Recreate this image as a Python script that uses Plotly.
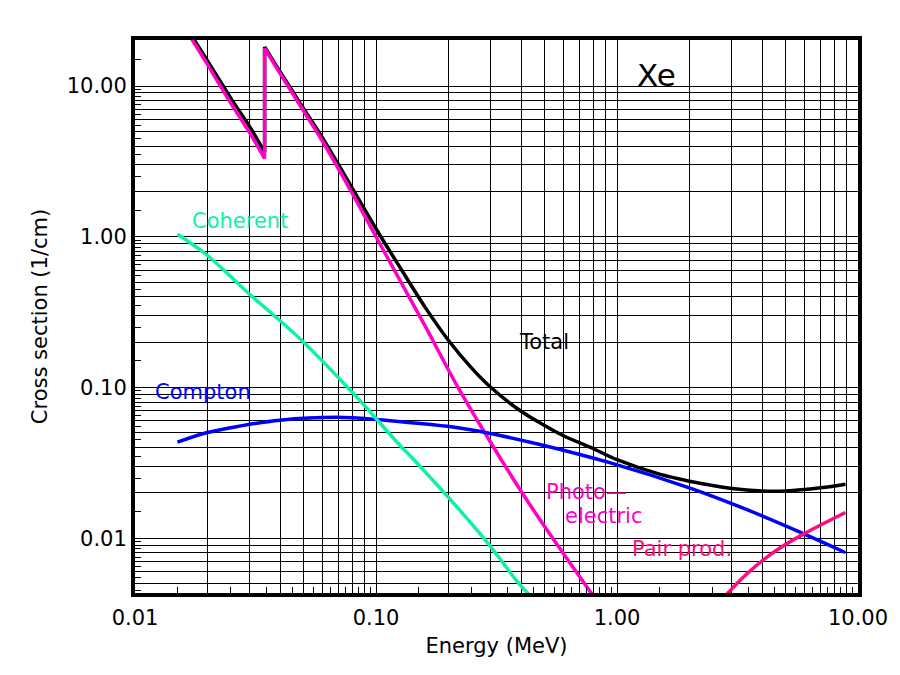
import numpy as np
import plotly.graph_objects as go

# photon cross sections in xenon (1/cm) vs energy (MeV)
# photoelectric, below and above the K edge
pe_lo_energy = [0.015, 0.0173, 0.02, 0.025, 0.03, 0.0345]
pe_lo_value = [29.3, 20.2, 13.85, 7.68, 4.86, 3.3]
pe_hi_energy = [0.0345, 0.04, 0.05, 0.06, 0.08, 0.1, 0.13, 0.16, 0.219, 0.3, 0.4, 0.5, 0.6, 0.8]
pe_hi_value = [17.8, 12.1, 6.85, 4.3, 1.92, 1.0, 0.466, 0.255, 0.1, 0.0428, 0.0205, 0.012, 0.0079, 0.0041]

# total
tot_lo_energy = [0.015, 0.0173, 0.02, 0.025, 0.03, 0.0345]
tot_lo_value = [30.4, 21.15, 14.66, 8.28, 5.33, 3.65]
tot_hi_energy = [0.0345, 0.04, 0.05, 0.06, 0.08, 0.1, 0.13, 0.16, 0.2, 0.25, 0.3, 0.4, 0.5, 0.6,
                 0.8, 1.0, 1.5, 2.0, 3.0, 4.0, 5.0, 7.0, 8.87]
tot_hi_value = [18.2, 12.44, 7.11, 4.52, 2.08, 1.13, 0.575, 0.34, 0.205, 0.134, 0.100, 0.0695, 0.0560, 0.0478,
                0.0392, 0.0332, 0.0266, 0.0239, 0.0214, 0.0206, 0.0206, 0.0216, 0.0228]

cs_energy = [0.015, 0.0198, 0.0271, 0.04, 0.0736, 0.124, 0.219, 0.265, 0.469,
             0.94, 2.01, 3.36, 5.93, 8.85]
cs_value = [0.0434, 0.0501, 0.0554, 0.0607, 0.0633, 0.0595, 0.0541, 0.0514, 0.0422,
            0.0316, 0.0215, 0.01576, 0.01073, 0.00804]

coh_energy = [0.015, 0.0198, 0.03, 0.048, 0.0849, 0.0993, 0.128, 0.141, 0.2825, 0.388, 0.44]
coh_value = [1.04, 0.76, 0.413, 0.213, 0.0834, 0.063, 0.040, 0.0342, 0.00984, 0.0051, 0.0041]

pp_energy = [2.8, 2.9, 3.3, 3.92, 4.74, 5.91, 8.87]
pp_value = [0.0041, 0.00436, 0.0054, 0.0069, 0.0086, 0.0106, 0.0148]

x_labels = {0.01: "0.01", 0.1: "0.10", 1: "1.00", 10: "10.00"}
y_labels = {0.01: "0.01", 0.1: "0.10", 1: "1.00", 10: "10.00"}

FONT = "DejaVu Sans"
FS = 21
C_PE = "#ff00c8"
C_PP = "#ff0a80"
C_CS = "#0000ff"
C_COH = "#10f0a8"
LW = 3.5


def grid_vals(decades, lo, hi):
    vals = [m * 10.0 ** d for d in decades for m in range(1, 10)]
    return [v for v in vals if lo <= v <= hi]


def half_vals(decades, lo, hi):
    vals = [(m + 0.5) * 10.0 ** d for d in decades for m in range(1, 10)]
    return [v for v in vals if lo <= v <= hi]


def curve(fig, x, y, color, shape="spline"):
    fig.add_trace(go.Scatter(x=x, y=y, mode="lines",
                             line=dict(color=color, width=LW, shape=shape, smoothing=1.0)))


xgrid = grid_vals(range(-2, 2), 0.01, 10)
ygrid = grid_vals(range(-3, 2), 0.0043, 20.2)

fig = go.Figure()
# total, with its K edge jump
curve(fig, tot_lo_energy, tot_lo_value, "black")
curve(fig, [tot_lo_energy[-1], tot_hi_energy[0]], [tot_lo_value[-1], tot_hi_value[0]], "black", "linear")
curve(fig, tot_hi_energy, tot_hi_value, "black")
# photoelectric, with its K edge jump
curve(fig, pe_lo_energy, pe_lo_value, C_PE)
curve(fig, [pe_lo_energy[-1], pe_hi_energy[0]], [pe_lo_value[-1], pe_hi_value[0]], C_PE, "linear")
curve(fig, pe_hi_energy, pe_hi_value, C_PE)
curve(fig, cs_energy, cs_value, C_CS)
curve(fig, coh_energy, coh_value, C_COH)
curve(fig, pp_energy, pp_value, C_PP)

labels = [
    ("Xe", 1.19, 11.8, "black", 31),
    ("Coherent", 0.0169, 1.28, C_COH, FS),
    ("Compton", 0.0119, 0.094, C_CS, FS),
    ("Total", 0.385, 0.199, "black", FS),
    ("Photo\u2014", 0.497, 0.0202, C_PE, FS),
    ("electric", 0.596, 0.0141, C_PE, FS),
    ("Pair prod.", 1.136, 0.00845, C_PP, FS),
]
for txt, ex, sy, col, size in labels:
    fig.add_annotation(x=np.log10(ex), y=np.log10(sy), xref="x", yref="y",
                       text=txt, showarrow=False, xanchor="left", yanchor="middle",
                       font=dict(family=FONT, size=size, color=col))

fig.update_xaxes(
    type="log", range=[-2, 1],
    tickmode="array", tickvals=xgrid,
    ticktext=[x_labels.get(round(v, 6), "") for v in xgrid],
    ticks="", showgrid=True, gridcolor="black", gridwidth=1.4,
    showline=True, linecolor="black", linewidth=4, mirror=True,
    tickfont=dict(family=FONT, size=FS, color="black"),
    ticklabelstandoff=3, ticklabeloverflow="allow",
    minor=dict(tickmode="array", tickvals=half_vals(range(-2, 1), 0.01, 10),
               ticks="inside", ticklen=6, tickwidth=1.4, tickcolor="black", showgrid=False),
    title=dict(text="Energy (MeV)", font=dict(family=FONT, size=FS, color="black"), standoff=10),
    zeroline=False,
)
fig.update_yaxes(
    type="log", range=[np.log10(0.00433), np.log10(20.2)],
    tickmode="array", tickvals=ygrid,
    ticktext=[y_labels.get(round(v, 6), "") for v in ygrid],
    ticks="", showgrid=True, gridcolor="black", gridwidth=1.4,
    showline=True, linecolor="black", linewidth=4, mirror=True,
    tickfont=dict(family=FONT, size=FS, color="black"),
    ticklabelstandoff=0,
    minor=dict(tickmode="array", tickvals=half_vals(range(-3, 2), 0.00433, 20.2),
               ticks="inside", ticklen=6, tickwidth=1.4, tickcolor="black", showgrid=False),
    title=dict(text="Cross section (1/cm)", font=dict(family=FONT, size=FS, color="black"),
               standoff=14),
    zeroline=False,
)
# the page sits 8px in from the window corner
fig.update_layout(
    width=892, height=659,
    margin=dict(l=127, r=38, t=32, b=74),
    paper_bgcolor="white", plot_bgcolor="white",
    showlegend=False,
    font=dict(family=FONT, color="black"),
)
fig.write_html("out.html")
